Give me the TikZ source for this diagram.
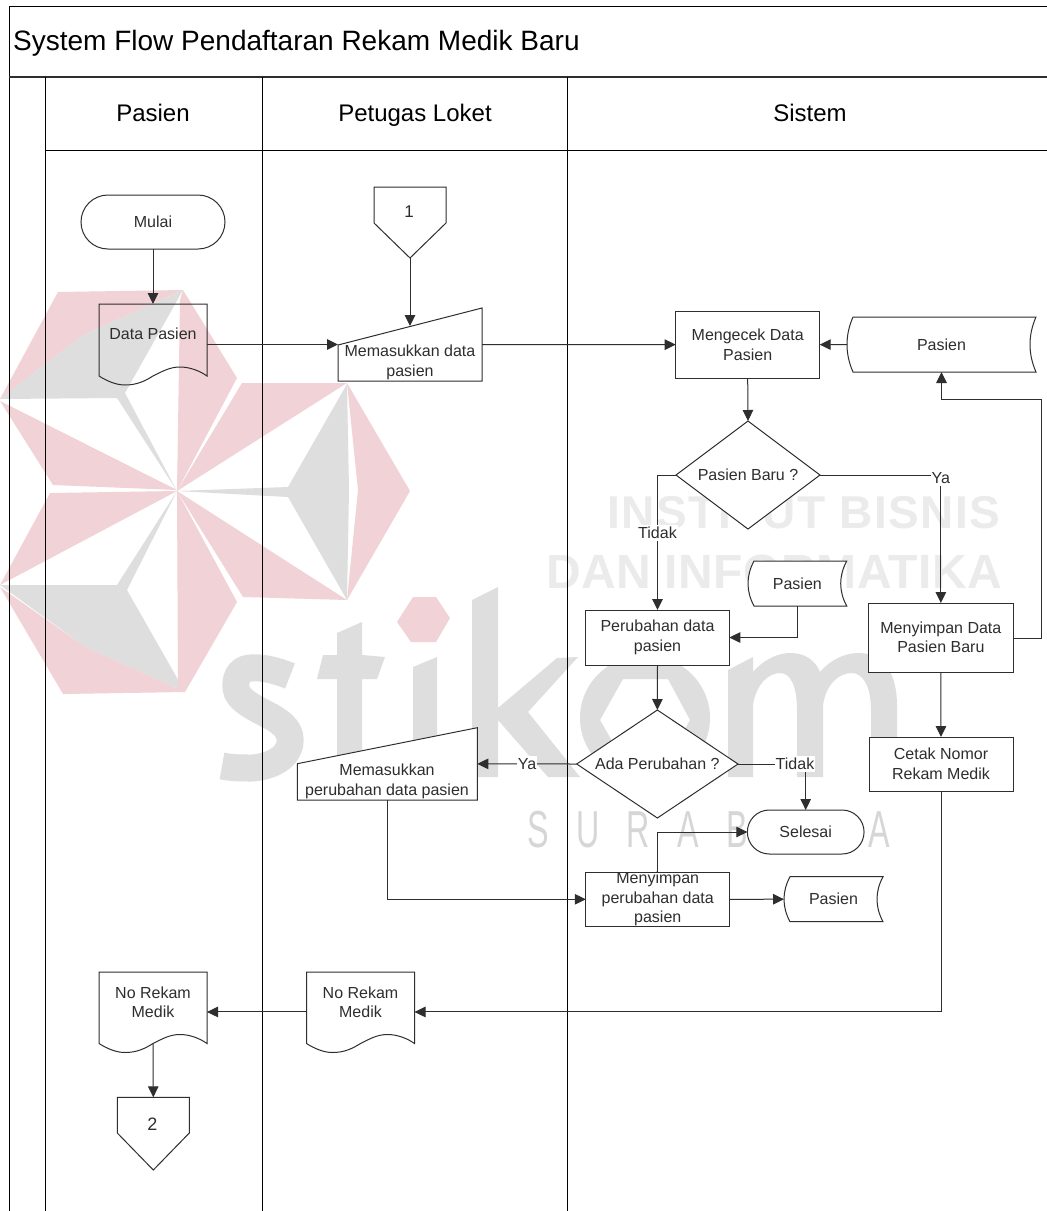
\documentclass[tikz,border=0pt]{standalone}
\usepackage{fontspec}
\setmainfont{Liberation Sans}
\newfontfamily\wmA[LetterSpace=3.4]{Liberation Sans}
\newfontfamily\wmB[LetterSpace=1]{Liberation Sans}
\newfontfamily\wmC[LetterSpace=85]{Liberation Sans}
\usetikzlibrary{arrows.meta}
\definecolor{wmgray}{HTML}{DEDEDE}
\definecolor{wmtext}{HTML}{EBEBEB}
\definecolor{wmsub}{HTML}{D6D6D6}
\definecolor{wmpink}{HTML}{F1D2D6}
\definecolor{ink}{HTML}{2E2E2E}
\tikzset{
  hold/.style={inner sep=0pt,outer sep=0pt,align=center,text=ink,font=\fontsize{16}{19.5}\selectfont},
  lbl/.style={inner sep=0pt,align=center,text=ink,font=\fontsize{16}{19.5}\selectfont},
  edgelbl/.style={lbl,fill=white,inner xsep=1pt,inner ysep=2pt},
  outline/.style={draw=ink,line width=1pt,line join=miter},
  solid box/.style={outline,fill=white},
  flow/.style={draw=ink,line width=1pt,-{Triangle[length=11pt,width=10.5pt]}},
  rule/.style={draw=black,line width=1pt},
  pinkpart/.style={fill=wmpink},
  graypart/.style={fill=wmgray},
  heading/.style={inner sep=0pt,anchor=base,text=black,font=\fontsize{24}{26}\selectfont},
}
% rectangle-bound invisible node: name, xl, xr, top, bottom, text
\newcommand\holdnode[6]{%
  \node[hold,minimum width={(#3-#2)*1pt},minimum height={(#5-#4)*1pt}] (#1) at ({(#2+#3)/2},{(#4+#5)/2}) {#6};}
\newcommand\boxnode[6]{%
  \path[solid box] (#2,#4) rectangle (#3,#5);
  \holdnode{#1}{#2}{#3}{#4}{#5}{#6}}
\newcommand\diamondnode[6]{%
  \path[solid box] (#2,{(#4+#5)/2}) -- ({(#2+#3)/2},#4) -- (#3,{(#4+#5)/2}) -- ({(#2+#3)/2},#5) -- cycle;
  \holdnode{#1}{#2}{#3}{#4}{#5}{#6}}
% name, xl, xr, top, slant-left y, bottom
\newcommand\inputnode[6]{%
  \path[solid box] (#2,#5) -- (#3,#4) -- (#3,#6) -- (#2,#6) -- cycle;
  \holdnode{#1}{#2}{#3}{#4}{#6}{}}
% name, xl, top, mid (wave), style
\newcommand\docnode[5]{%
  \path[#5] (#2,#3) -- ({#2+108},#3) -- ({#2+108},#4)
    .. controls ({#2+101},{#4-5}) and ({#2+91},{#4-9}) .. ({#2+81},{#4-9})
    .. controls ({#2+71},{#4-9}) and ({#2+64},{#4-5}) .. ({#2+54},#4)
    .. controls ({#2+46},{#4+5}) and ({#2+38},{#4+9}) .. ({#2+26},{#4+9})
    .. controls ({#2+17},{#4+9}) and ({#2+8},{#4+5}) .. (#2,#4) -- cycle;
  \holdnode{#1}{#2}{#2+108}{#3}{#4}{}}
% name, xl, xr, top, bottom, text
\newcommand\storenode[6]{%
  \path[solid box] ({#2+6},#4) -- (#3,#4)
    .. controls ({#3-8},{#4+(#5-#4)*.33}) and ({#3-8},{#4+(#5-#4)*.67}) .. (#3,#5)
    -- ({#2+6},#5)
    .. controls ({#2-2},{#4+(#5-#4)*.67}) and ({#2-2},{#4+(#5-#4)*.33}) .. ({#2+6},#4) -- cycle;
  \holdnode{#1}{#2}{#3}{#4}{#5}{#6}}
% name, xl, xr, top, shoulder, tip
\newcommand\offnode[6]{%
  \path[solid box] (#2,#4) -- (#3,#4) -- (#3,#5) -- ({(#2+#3)/2},#6) -- (#2,#5) -- cycle;
  \holdnode{#1}{#2}{#3}{#4}{#6}{}}
\begin{document}
\begin{tikzpicture}[x=1pt,y=-1pt]
\useasboundingbox (0,0) rectangle (1047,1211);
\fill[white] (0,0) rectangle (1047,1211);
% ---------- watermark logo ----------
\fill[pinkpart] (0,399) -- (58,292) -- (183,290) -- (83,335) -- cycle;
\fill[graypart] (0,399) -- (83,335) -- (183,290) -- (125,393) -- (177,491) -- (117,398) -- cycle;
\fill[pinkpart] (180,300) -- (183,290) -- (237,378) -- (177,491) -- cycle;
\fill[pinkpart] (0,401) -- (177,490) -- (53,485) -- cycle;
\fill[pinkpart] (242,383) -- (347,383) -- (177,491) -- cycle;
\fill[graypart] (347,384) -- (288,487) -- (177,491) -- (288,497) -- (347,600) -- (349,490) -- cycle;
\fill[pinkpart] (347,383) -- (410,491) -- (347,600) -- (358,490) -- cycle;
\fill[pinkpart] (177,491) -- (347,600) -- (243,597) -- cycle;
\fill[pinkpart] (177,491) -- (50,493) -- (0,585) -- cycle;
\fill[graypart] (0,585) -- (117,585) -- (177,491) -- (127,590) -- (185,692) -- (87,648) -- cycle;
\fill[pinkpart] (0,587) -- (87,648) -- (185,692) -- (63,694) -- cycle;
\fill[pinkpart] (177,491) -- (237,602) -- (185,692) -- (178,690) -- cycle;
\fill[pinkpart] (397,622) -- (413,597) -- (436,597) -- (450,618) -- (436,642) -- (411,642) -- cycle;
% ---------- watermark lettering ----------
\draw[wmgray,line width=27pt] (290,676) .. controls (275,670) and (262,667) .. (250,668)
  .. controls (238,669) and (235,680) .. (236,688)
  .. controls (237,700) and (255,708) .. (270,716)
  .. controls (285,724) and (291,732) .. (290,742)
  .. controls (289,758) and (270,767) .. (252,768)
  .. controls (242,768) and (232,768) .. (222,766);
\fill[graypart] (337,633) -- (362,622) -- (362,655) -- (385,657) -- (377,679) -- (362,679) -- (362,777) -- (337,777) -- (337,679) -- (317,679) -- (323,655) -- (337,655) -- cycle;
\fill[graypart] (413,667) -- (437,657) -- (437,777) -- (413,777) -- cycle;
\fill[graypart] (472,600) -- (498,587) -- (498,708) -- (557,658) -- (578,657) -- (528,712) -- (580,777) -- (548,777) -- (498,720) -- (498,777) -- (472,777) -- cycle;
\fill[graypart,even odd rule] (645,718) ellipse[x radius=65,y radius=63]
  (600,720) -- (623,679) -- (668,679) -- (690,720) -- (668,760) -- (623,760) -- cycle;
\fill[graypart] (728,670) -- (753,657) -- (753,672)
  .. controls (765,658) and (780,653) .. (790,653)
  .. controls (805,653) and (815,660) .. (820,672)
  .. controls (830,660) and (845,653) .. (858,653)
  .. controls (885,653) and (897,675) .. (897,705)
  -- (897,777) -- (871,777) -- (871,710)
  .. controls (871,685) and (862,673) .. (852,673)
  .. controls (838,673) and (826,685) .. (823,705)
  -- (823,777) -- (797,777) -- (797,710)
  .. controls (797,685) and (790,673) .. (780,673)
  .. controls (768,673) and (756,685) .. (753,705)
  -- (753,777) -- (728,777) -- cycle;
\node[inner sep=0pt,text=wmtext,anchor=base west,font=\wmA\fontsize{46}{46}\selectfont\bfseries] (wm1) at (607,528) {INSTITUT BISNIS};
\node[inner sep=0pt,text=wmtext,anchor=base west,font=\wmB\fontsize{48}{48}\selectfont\bfseries] (wm2) at (546,588) {DAN INFORMATIKA};
\node[inner sep=0pt,text=wmsub,xscale=.62,anchor=base west,font=\wmC\fontsize{52}{52}\selectfont] (wm3) at (527,847) {SURABAYA};
% ---------- frame ----------
\draw[rule] (1047,6) -- (9,6) -- (9,1211);
\draw[rule,line width=2pt,draw=ink] (9,77) -- (1047,77);
\draw[rule] (45,77) -- (45,1211);
\draw[rule] (262,77) -- (262,1211);
\draw[rule] (567.5,77) -- (567.5,1211);
\draw[rule] (45,150) -- (1047,150);
\node[inner sep=0pt,anchor=base west,text=black,font=\fontsize{28}{30}\selectfont] (title) at (13,50) {System Flow Pendaftaran Rekam Medik Baru};
\node[heading] (hA) at (153,121) {Pasien};
\node[heading] (hB) at (415,121) {Petugas Loket};
\node[heading] (hC) at (810,121) {Sistem};
% ---------- shapes ----------
\node[hold,outline,fill=white,rounded corners=27pt,minimum width=144pt,minimum height=54pt] (mulai) at (153,222) {Mulai};
\offnode{off1}{374}{446}{187}{223}{258}
\node[lbl] (off1t) at (409,212) {\fontsize{17}{19}\selectfont 1};
\docnode{dp}{99}{304}{376}{outline}
\node[lbl] (dpt) at (153,334) {Data Pasien};
\inputnode{inp}{338}{482}{308}{345}{381}
\node[lbl] (inpt) at (410,362.5) {Memasukkan data\\pasien};
\boxnode{cek}{675.7}{819.7}{311}{378.3}{Mengecek Data\\Pasien}
\storenode{st1}{847}{1036}{317}{372}{Pasien}
\diamondnode{d1}{676}{820}{421}{529}{Pasien Baru ?}
\storenode{st2}{748}{846.7}{561}{606}{Pasien}
\boxnode{ubah}{585.7}{729.3}{610}{665}{Perubahan data\\pasien}
\boxnode{simpan}{868.7}{1013}{603}{672}{Menyimpan Data\\Pasien Baru}
\boxnode{cetak}{869}{1013}{737}{791}{Cetak Nomor\\Rekam Medik}
\diamondnode{d2}{576.7}{738}{710}{818}{Ada Perubahan ?}
\inputnode{inp2}{297.3}{477.3}{727.7}{763.7}{800}
\node[lbl] (inp2t) at (387,781.5) {Memasukkan\\perubahan data pasien};
\node[hold,outline,fill=white,rounded corners=22pt,minimum width=116.7pt,minimum height=44pt] (selesai) at (805.7,832) {Selesai};
\boxnode{ubahsim}{585.8}{729.7}{872.3}{926.3}{Menyimpan\\perubahan data\\pasien}
\storenode{st3}{784}{883}{876.7}{921.7}{Pasien}
\docnode{nr2}{306.5}{972}{1043.5}{solid box}
\node[lbl] (nr2t) at (360.5,1002.5) {No Rekam\\Medik};
\docnode{nr1}{99}{972}{1043.5}{solid box}
\node[lbl] (nr1t) at (153,1002.5) {No Rekam\\Medik};
\offnode{off2}{117.3}{189.3}{1097.3}{1133}{1170}
\node[lbl] (off2t) at (152.5,1124) {\fontsize{18}{20}\selectfont 2};
% ---------- connectors ----------
\coordinate (inptop) at (410,326);
\coordinate (retA) at (1041,399);
\coordinate (cornerT) at (805.7,764);
\draw[flow] (mulai) -- (dp);
\draw[flow] (off1.south) -- (inptop);
\draw[flow] (dp.east |- inp.west) -- (inp.west);
\draw[flow] (inp.east) -- (cek.west);
\draw[flow] (st1.west) -- (cek.east);
\draw[flow] (cek.south) -- (d1.north);
\draw[flow] ([yshift=-.5pt]simpan.east) -| (retA) -| (st1.south);
\draw[flow] (d1.west) -| (ubah.north) node[pos=.715,edgelbl] (lblT) {Tidak};
\draw[flow] (d1.east) -| (simpan.north) node[pos=.512,edgelbl] (lblY) {Ya};
\draw[flow] (st2.south) |- (ubah.east);
\draw[flow] (ubah.south) -- (d2.north);
\draw[flow] (simpan.south) -- (cetak.north);
\draw[flow] (d2.west) -- (inp2.east) node[pos=.5,edgelbl] (lblY2) {Ya};
\draw[flow] (d2.east) -- (cornerT) -- (selesai.north);
\node[edgelbl] (lblT2) at (795,764) {Tidak};
\draw[flow] (inp2.south) |- (ubahsim.west);
\draw[flow] (ubahsim.north) |- (selesai.west);
\draw[flow] (ubahsim.east) -- (st3.west);
\draw[flow] (cetak.south) |- ([yshift=-4.2pt]nr2.east);
\draw[flow] ([yshift=-4.2pt]nr2.west) -- ([yshift=-4.2pt]nr1.east);
\draw[flow] (nr1.south) -- (off2.north);
\end{tikzpicture}
\end{document}
